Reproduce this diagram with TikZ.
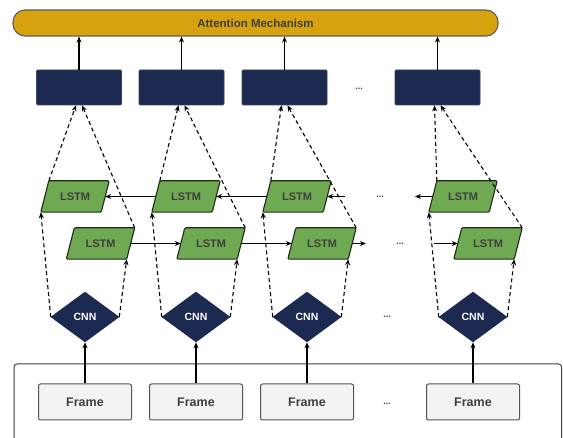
\documentclass[tikz,border=0pt]{standalone}
\usepackage{fontspec}
\setmainfont{Liberation Sans}
\usetikzlibrary{shapes.geometric,arrows.meta}
\definecolor{gold}{HTML}{D6A30E}
\definecolor{navy}{HTML}{1C2951}
\definecolor{leaf}{HTML}{6FAA53}
\definecolor{leafedge}{HTML}{1F2A18}
\definecolor{framefill}{HTML}{F3F3F3}
\definecolor{ink}{HTML}{3F3F3F}
\pgfdeclarelayer{bg}
\pgfsetlayers{bg,main}
\begin{document}
\begin{tikzpicture}[x=1pt,y=-1pt,
  att/.style={draw=ink!85, line width=1.1pt, fill=gold, rounded corners=12pt,
    minimum width=485pt, minimum height=26pt,
    font=\fontsize{11.5}{12}\selectfont\bfseries, text=ink},
  featbox/.style={fill=navy, draw=navy!70!gray, line width=0.6pt, rounded corners=1pt,
    minimum width=85pt, minimum height=35pt},
  lstm/.style={rectangle, minimum width=60pt, minimum height=31pt, inner sep=0pt,
    font=\fontsize{11}{12}\selectfont\bfseries, text=ink},
  lstmshape/.style={draw=leafedge, line width=1.1pt, fill=leaf, rounded corners=1.2pt},
  cnn/.style={diamond, fill=navy, draw=navy, line width=0.6pt, minimum width=68pt,
    minimum height=50pt, inner sep=0pt, text=white,
    font=\fontsize{10.5}{11}\selectfont\bfseries},
  framebox/.style={draw=ink!90, line width=1pt, fill=framefill, rounded corners=2pt,
    minimum width=93pt, minimum height=36pt,
    font=\fontsize{12.5}{13}\selectfont\bfseries, text=ink},
  flow/.style={line width=1.1pt, -{Stealth[length=6pt,width=5pt]}},
  skip/.style={flow, dash pattern=on 4pt off 3pt},
  ellip/.style={font=\fontsize{9}{9}\selectfont\bfseries, text=ink}
]
\useasboundingbox (0,0) rectangle (563,438);
\clip (0,0) rectangle (563,438);

% open frame around the input frames
\draw[ink, line width=1pt, rounded corners=3pt] (14,450) -- (14,364) -- (561.5,364) -- (561.5,450);

% attention layer
\node[att] (att) at (255.5,23) {Attention Mechanism};

% feature boxes
\node[featbox] (T1) at (79,87.5) {};
\node[featbox] (T2) at (181.5,87.5) {};
\node[featbox] (T3) at (284.5,87.5) {};
\node[featbox] (T4) at (437.5,87.5) {};

% backward LSTM row
\node[lstm] (U1) at (75,196.5) {LSTM};
\node[lstm] (U2) at (186,196.5) {LSTM};
\node[lstm] (U3) at (297,196.5) {LSTM};
\node[lstm] (U4) at (463,196.5) {LSTM};

% forward LSTM row
\node[lstm] (L1) at (100.5,243.5) {LSTM};
\node[lstm] (L2) at (211,243.5) {LSTM};
\node[lstm] (L3) at (322,243.5) {LSTM};
\node[lstm] (L4) at (488,243.5) {LSTM};

% slanted LSTM cells drawn behind their labels, with named corners
\foreach \n in {U1,U2,U3,U4,L1,L2,L3,L4} {
  \coordinate (\n-bl) at ([xshift=-4pt]\n.south west);
  \coordinate (\n-tl) at ([xshift=4pt]\n.north west);
  \coordinate (\n-tr) at ([xshift=4pt]\n.north east);
  \coordinate (\n-br) at ([xshift=-4pt]\n.south east);
  \begin{pgfonlayer}{bg}
    \draw[lstmshape] (\n-bl) -- (\n-tl) -- (\n-tr) -- (\n-br) -- cycle;
  \end{pgfonlayer}
}

% CNN encoders
\node[cnn] (C1) at (85,317) {CNN};
\node[cnn] (C2) at (196,317) {CNN};
\node[cnn] (C3) at (307,317) {CNN};
\node[cnn] (C4) at (473,317) {CNN};

% input frames
\node[framebox] (F1) at (85,402) {Frame};
\node[framebox] (F2) at (196,402) {Frame};
\node[framebox] (F3) at (307,402) {Frame};
\node[framebox] (F4) at (473,402) {Frame};

% ellipses
\node[ellip] (e1) at (359,89) {...};
\node[ellip] (e2) at (380,197) {...};
\node[ellip] (e3) at (400,244) {...};
\node[ellip] (e4) at (387,317) {...};
\node[ellip] (e5) at (387,404) {...};

% vertical connections per time step
\foreach \i in {1,...,4} {
  \draw[flow] (F\i.north) -- (C\i.south);
  \draw[skip] (C\i.west) -- (U\i-bl);
  \draw[skip] (C\i.east) -- (L\i-br);
  \draw[skip] (U\i-tl) -- ([xshift=-3pt]T\i.south);
  \draw[skip] (L\i-tr) -- ([xshift=3pt]T\i.south);
  \draw[flow] (T\i.north) -- (T\i.north |- att.south);
}

% recurrent connections
\coordinate (u3in) at (345,196.5);
\coordinate (u4out) at (415,196.5);
\coordinate (l3out) at (366,243.5);
\coordinate (l4in) at (434,243.5);
\draw[flow] (U2.west) -- (U1.east);
\draw[flow] (U3.west) -- (U2.east);
\draw[flow] (u3in) -- (U3.east);
\draw[flow] (U4.west) -- (u4out);
\draw[flow] (L1.east) -- (L2.west);
\draw[flow] (L2.east) -- (L3.west);
\draw[flow] (L3.east) -- (l3out);
\draw[flow] (l4in) -- (L4.west);
\end{tikzpicture}
\end{document}
